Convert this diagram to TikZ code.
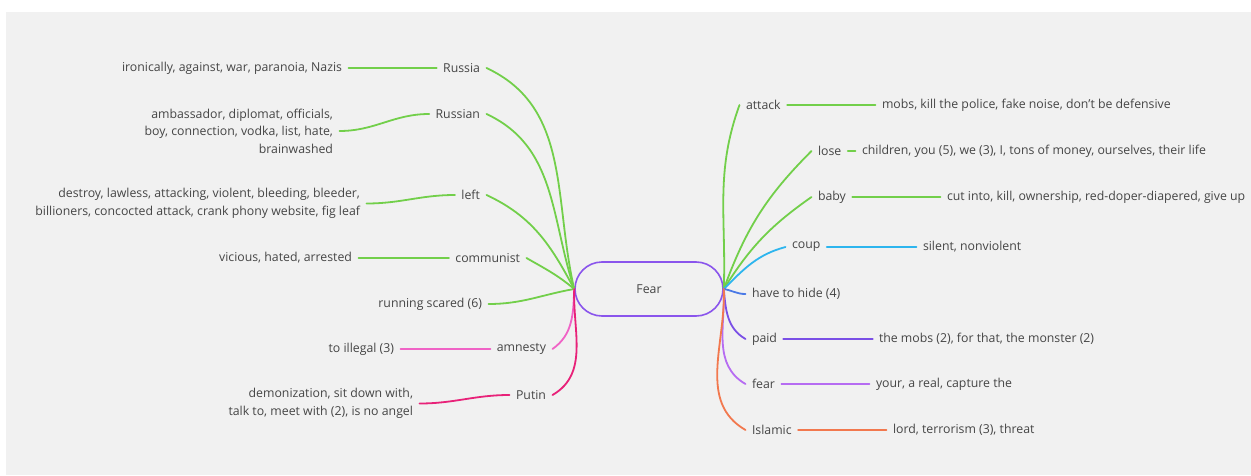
\documentclass[tikz,border=0pt]{standalone}
\usepackage{fontspec}
\setmainfont{Open Sans}
\definecolor{bgc}{HTML}{F1F1F1}
\definecolor{txt}{HTML}{454545}
\definecolor{cgreen}{HTML}{72CF4A}
\definecolor{ccyan}{HTML}{2DB5EE}
\definecolor{cblue}{HTML}{4A79E6}
\definecolor{cpurple}{HTML}{7A4FE6}
\definecolor{cviolet}{HTML}{B66CF2}
\definecolor{corange}{HTML}{F2784E}
\definecolor{cpink}{HTML}{F063C6}
\definecolor{cmagenta}{HTML}{E82279}
\definecolor{cborder}{HTML}{8A55EC}
\begin{document}
\begin{tikzpicture}[x=1pt,y=1pt,
  lbl/.style={font=\fontsize{12.3}{17.5}\selectfont, text=txt, inner sep=0pt, outer xsep=6.5pt, outer ysep=0pt},
  lft/.style={lbl, anchor=east, align=right},
  rgt/.style={lbl, anchor=west, align=left},
  br/.style={line width=1.8pt, line cap=round}]
\useasboundingbox (0,0) rectangle (1251,475);
\fill[white] (0,0) rectangle (1251,475);
\fill[bgc] (6,0) rectangle (1251,463);
% centre
\node[draw=cborder, line width=1.6pt, fill=bgc, minimum width=148pt, minimum height=54pt, rounded corners=27pt, inner sep=0pt, font=\fontsize{12.3}{14}\selectfont, text=txt] (fear) at (649,186) {Fear};
% left nodes
\node[lft] (russia) at (486.5,407) {Russia};
\node[lft] (russian) at (486.5,361) {Russian};
\node[lft] (left) at (486.5,280) {left};
\node[lft] (communist) at (526.5,217) {communist};
\node[lft] (running) at (488.5,171) {running scared (6)};
\node[lft] (amnesty) at (552.5,126) {amnesty};
\node[lft] (putin) at (552.5,80) {Putin};
% left leaves
\node[lft] (russiaL) at (348.5,407) {ironically, against, war, paranoia, Nazis};
\node[lft] (russianL) at (339.5,344) {ambassador, diplomat, officials,\\boy, connection, vodka, list, hate,\\brainwashed};
\node[lft] (leftL) at (366.5,271.5) {destroy, lawless, attacking, violent, bleeding, bleeder,\\billioners, concocted attack, crank phony website, fig leaf};
\node[lft] (communistL) at (358.5,217) {vicious, hated, arrested};
\node[lft] (amnestyL) at (400.5,126) {to illegal (3)};
\node[lft] (putinL) at (419.5,71.5) {demonization, sit down with,\\talk to, meet with (2), is no angel};
% right nodes
\node[rgt] (attack) at (739.5,370) {attack};
\node[rgt] (lose) at (811.5,324) {lose};
\node[rgt] (baby) at (811.5,278) {baby};
\node[rgt] (coup) at (785.5,228) {coup};
\node[rgt] (hide) at (745.5,181) {have to hide (4)};
\node[rgt] (paid) at (745.5,136) {paid};
\node[rgt] (fearw) at (745.5,91) {fear};
\node[rgt] (islamic) at (745.5,45) {Islamic};
% right leaves
\node[rgt] (attackL) at (875.5,370) {mobs, kill the police, fake noise, don’t be defensive};
\node[rgt] (loseL) at (855.5,324) {children, you (5), we (3), I, tons of money, ourselves, their life};
\node[rgt] (babyL) at (940.5,278) {cut into, kill, ownership, red-doper-diapered, give up};
\node[rgt] (coupL) at (916.5,228) {silent, nonviolent};
\node[rgt] (paidL) at (872.5,136) {the mobs (2), for that, the monster (2)};
\node[rgt] (fearwL) at (869.5,91) {your, a real, capture the};
\node[rgt] (islamicL) at (886.5,45) {lord, terrorism (3), threat};
% left branches
\draw[br,cgreen] (fear.west) to[out=103,in=-25] (russia.east);
\draw[br,cgreen] (fear.west) to[out=108,in=-25] (russian.east);
\draw[br,cgreen] (fear.west) to[out=118,in=-25] (left.east);
\draw[br,cgreen] (fear.west) to[out=140,in=-30] (communist.east);
\draw[br,cgreen] (fear.west) to[out=190,in=0] (running.east);
\draw[br,cpink] (fear.west) to[out=-92,in=35] (amnesty.east);
\draw[br,cmagenta] (fear.west) to[out=-92,in=30] (putin.east);
\draw[br,cgreen] (russia.west) -- (russiaL.east);
\draw[br,cgreen] (russian.west) to[out=180,in=0] (russianL.east);
\draw[br,cgreen] (left.west) to[out=180,in=0] (leftL.east);
\draw[br,cgreen] (communist.west) -- (communistL.east);
\draw[br,cpink] (amnesty.west) -- (amnestyL.east);
\draw[br,cmagenta] (putin.west) to[out=180,in=0] (putinL.east);
% right branches
\draw[br,cgreen] (fear.east) to[out=88,in=250] (attack.west);
\draw[br,cgreen] (fear.east) to[out=70,in=225] (lose.west);
\draw[br,cgreen] (fear.east) to[out=58,in=215] (baby.west);
\draw[br,ccyan] (fear.east) to[out=45,in=195] (coup.west);
\draw[br,cblue] (fear.east) to[out=-10,in=180] (hide.west);
\draw[br,cpurple] (fear.east) to[out=-85,in=150] (paid.west);
\draw[br,cviolet] (fear.east) to[out=-88,in=150] (fearw.west);
\draw[br,corange] (fear.east) to[out=-88,in=150] (islamic.west);
\draw[br,cgreen] (attack.east) -- (attackL.west);
\draw[br,cgreen] (lose.east) -- (loseL.west);
\draw[br,cgreen] (baby.east) -- (babyL.west);
\draw[br,ccyan] (coup.east) -- (coupL.west);
\draw[br,cpurple,line width=2.6pt] (paid.east) -- (paidL.west);
\draw[br,cviolet] (fearw.east) -- (fearwL.west);
\draw[br,corange] (islamic.east) -- (islamicL.west);
\end{tikzpicture}
\end{document}
